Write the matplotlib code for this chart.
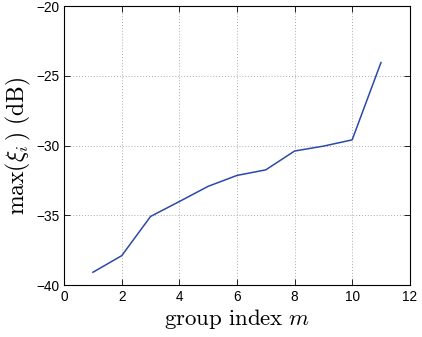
import numpy as np
from matplotlib import pyplot as plt

# group index and max(xi_i) in dB
group_index = [1, 2, 3, 4, 5, 6, 7, 8, 9, 10, 11]
max_xi_db = [-39.08, -37.89, -35.08, -34.01, -32.92, -32.14, -31.74, -30.39, -30.04, -29.59, -24.05]

x_ticks = [0, 2, 4, 6, 8, 10, 12]
y_ticks = [-40, -35, -30, -25, -20]

plt.rcParams['font.family'] = ['Liberation Sans', 'DejaVu Sans']
plt.rcParams['mathtext.fontset'] = 'cm'

fig = plt.figure(figsize=(4.22, 3.37), dpi=100)
ax = fig.add_axes([0.152, 0.154, 0.819, 0.828])

ax.plot(group_index, max_xi_db, color='#2b4aa8', linewidth=1.1)

ax.set_xlim(0, 12)
ax.set_ylim(-40, -20)
ax.set_xticks(x_ticks)
ax.set_yticks(y_ticks)
ax.tick_params(direction='in', top=True, right=True, labelsize=9.8, length=4, width=0.6)
ax.grid(True, linestyle=(0, (1, 2)), color='#aaaaaa', linewidth=0.7)
for s in ax.spines.values():
    s.set_linewidth(0.8)

ax.set_xlabel(r'$\mathrm{group\ index}\ m$', fontsize=16.5, labelpad=2)
ax.set_ylabel(r'$\max(\xi_i\,)\ \mathrm{(dB)}$', fontsize=17, labelpad=2)

fig.savefig('out.png', dpi=100)
